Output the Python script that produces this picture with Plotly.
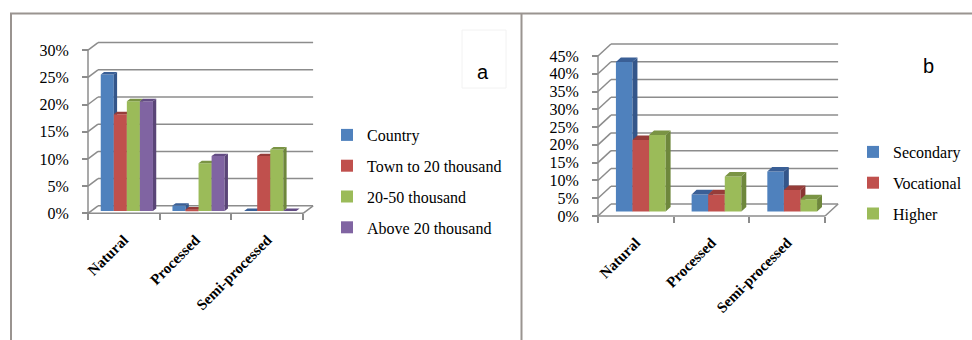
import plotly.graph_objects as go

# ---------------------------------------------------------------- data
categories = ["Natural", "Processed", "Semi-processed"]

# (a) by place of residence, % of respondents
series_a = ["Country", "Town to 20 thousand", "20-50 thousand", "Above 20 thousand"]
country = [25.1, 1.0, 0.0]
town_to_20k = [17.8, 0.3, 10.1]
from_20_to_50k = [20.2, 8.8, 11.3]
above_20k = [20.2, 10.1, 0.0]
ticks_a = [0, 5, 10, 15, 20, 25, 30]
tick_labels_a = ["0%", "5%", "10%", "15%", "20%", "25%", "30%"]

# (b) by education, % of respondents
series_b = ["Secondary", "Vocational", "Higher"]
secondary = [42.0, 4.8, 11.2]
vocational = [20.1, 4.8, 6.0]
higher = [21.5, 9.8, 3.4]
ticks_b = [0, 5, 10, 15, 20, 25, 30, 35, 40, 45]
tick_labels_b = ["0%", "5%", "10%", "15%", "20%", "25%", "30%", "35%", "40%", "45%"]

# ---------------------------------------------------------------- style
FRONT = ["#4F81BD", "#C0504D", "#9BBB59", "#8064A2"]
SIDE = ["#34568A", "#8A3532", "#6E873C", "#5A4577"]
TOP = ["#3A5F96", "#963C39", "#7A9444", "#634C83"]
GRID = "#8c8c8c"
FRAME = "#9a9490"
SERIF = "Liberation Serif"
SANS = "Liberation Sans"

W, H = 972, 340


def fx(p):
    return p / W


def fy(p):
    return 1 - p / H


panels = [
    dict(values=[country, town_to_20k, from_20_to_50k, above_20k], names=series_a,
         ticks=ticks_a, tick_labels=tick_labels_a, axis_px=88, right_px=315,
         cat_px=71.7, zero_px=213.3, unit_px=5.44, ymax=32, wall_dx_px=10,
         wall_dy_px=7.5, z0=0.3, z1=0.63, bar_w=0.182,
         xs=["x", "x3", "x4", "x5"], ys=["y", "y3", "y4", "y5"], legend="legend"),
    dict(values=[secondary, vocational, higher], names=series_b,
         ticks=ticks_b, tick_labels=tick_labels_b, axis_px=598, right_px=840,
         cat_px=75.7, zero_px=216, unit_px=3.556, ymax=49, wall_dx_px=13,
         wall_dy_px=12, z0=0.38, z1=0.76, bar_w=0.219,
         xs=["x2", "x6", "x7"], ys=["y2", "y6", "y7"], legend="legend2"),
]

fig = go.Figure()
shapes = []
layout_axes = {}


def axkey(ref):
    return ("xaxis" if ref[0] == "x" else "yaxis") + ref[1:]


for p in panels:
    n = len(p["values"])
    cat = [0, 1, 2]
    DX = p["wall_dx_px"] / p["cat_px"]
    DY = p["wall_dy_px"] / p["unit_px"]
    ddx = (p["z1"] - p["z0"]) * DX
    ddy = (p["z1"] - p["z0"]) * DY
    w = p["bar_w"]
    left0 = -n * w / 2
    base = p["z0"] * DY

    pad_l, pad_b = 9, 9
    x_lo = -0.5 - pad_l / p["cat_px"]
    x_hi = -0.5 + (p["right_px"] + 2 - p["axis_px"]) / p["cat_px"]
    y_lo = -pad_b / p["unit_px"]
    x_dom = [fx(p["axis_px"] - pad_l), fx(p["right_px"] + 2)]
    y_dom = [fy(p["zero_px"] + pad_b), fy(p["zero_px"] - p["ymax"] * p["unit_px"])]

    for k, vals in enumerate(p["values"]):
        xa, ya = p["xs"][k], p["ys"][k]
        off = left0 + k * w + p["z0"] * DX
        # front faces
        fig.add_trace(go.Bar(
            x=cat, y=vals, base=base, width=w, offset=off,
            marker=dict(color=FRONT[k], line=dict(width=0)),
            name=p["names"][k], legend=p["legend"], legendgroup=p["names"][k],
            xaxis=xa, yaxis=ya, hoverinfo="skip"))
        # right side and top faces
        sx, sy, tx, ty = [], [], [], []
        for c, v in zip(cat, vals):
            xl = c + off
            xr = xl + w
            yt = base + v
            sx += [xr, xr, xr + ddx, xr + ddx, xr, None]
            sy += [base, yt, yt + ddy, base + ddy, base, None]
            tx += [xl, xr, xr + ddx, xl + ddx, xl, None]
            ty += [yt, yt, yt + ddy, yt + ddy, yt, None]
        for fxs, fys, col in ((sx, sy, SIDE[k]), (tx, ty, TOP[k])):
            fig.add_trace(go.Scatter(
                x=fxs, y=fys, mode="none", fill="toself", fillcolor=col,
                showlegend=False, hoverinfo="skip", xaxis=xa, yaxis=ya))

        if k == 0:
            layout_axes[axkey(xa)] = dict(
                domain=x_dom, range=[x_lo, x_hi], anchor="free",
                position=fy(p["zero_px"]),
                tickmode="array", tickvals=cat, ticktext=categories,
                tickangle=-45, ticks="", showgrid=False, zeroline=False,
                showline=False, ticklabelstandoff=14,
                tickfont=dict(family=SERIF, size=15, color="black", weight="bold"),
                minor=dict(tickmode="array", tickvals=[-0.5, 0.5, 1.5, 2.5],
                           ticks="outside", ticklen=6, tickwidth=1.5,
                           tickcolor=GRID, showgrid=False))
            layout_axes[axkey(ya)] = dict(
                domain=y_dom, range=[y_lo, p["ymax"]], anchor="free",
                position=fx(p["axis_px"]),
                tickmode="array", tickvals=p["ticks"], ticktext=p["tick_labels"],
                ticks="outside", ticklen=6, tickwidth=1.5, tickcolor=GRID,
                showgrid=False, zeroline=False, showline=False,
                ticklabelstandoff=10,
                tickfont=dict(family=SERIF, size=16, color="black"))
        else:
            layout_axes[axkey(xa)] = dict(
                overlaying=p["xs"][0], range=[x_lo, x_hi], visible=False,
                anchor=ya)
            layout_axes[axkey(ya)] = dict(
                overlaying=p["ys"][0], range=[y_lo, p["ymax"]], visible=False,
                anchor=xa)

    # walls and floor of the 3-D frame
    xr0, yr0 = p["xs"][0], p["ys"][0]
    line = dict(color=GRID, width=1.5)

    def seg(x0, y0, x1, y1):
        shapes.append(dict(type="line", xref=xr0, yref=yr0, x0=x0, y0=y0,
                           x1=x1, y1=y1, line=line, layer="below"))

    for v in p["ticks"]:
        seg(-0.5, v, -0.5 + DX, v + DY)
        seg(-0.5 + DX, v + DY, 2.5 + DX, v + DY)
    seg(-0.5, 0, -0.5, p["ticks"][-1])
    seg(-0.5, 0, 2.5, 0)
    seg(2.5, 0, 2.5 + DX, DY)

# outer frame
for x0, y0, x1, y1 in ((10, 13.5, 972, 13.5), (11, 13, 11, 340), (521.5, 13, 521.5, 340)):
    shapes.append(dict(type="line", xref="paper", yref="paper",
                       x0=fx(x0), y0=fy(y0), x1=fx(x1), y1=fy(y1),
                       line=dict(color=FRAME, width=2)))
shapes.append(dict(type="rect", xref="paper", yref="paper",
                   x0=fx(462), y0=fy(88), x1=fx(506), y1=fy(30),
                   line=dict(color="#f2f2f2", width=1)))

legend_style = dict(font=dict(family=SERIF, size=16, color="black"),
                    bgcolor="rgba(0,0,0,0)", traceorder="grouped",
                    tracegroupgap=7, xanchor="left", yanchor="top",
                    itemclick=False)

fig.update_layout(
    width=W, height=H, margin=dict(l=0, r=0, t=0, b=0),
    paper_bgcolor="white", plot_bgcolor="rgba(0,0,0,0)",
    barmode="overlay", showlegend=True,
    legend=dict(x=fx(327), y=fy(118), **legend_style),
    legend2=dict(x=fx(853), y=fy(135), **legend_style),
    shapes=shapes,
    annotations=[
        dict(text="a", x=fx(483), y=fy(59), xref="paper", yref="paper",
             showarrow=False, font=dict(family=SANS, size=20, color="black")),
        dict(text="b", x=fx(936), y=fy(53), xref="paper", yref="paper",
             showarrow=False, font=dict(family=SANS, size=20, color="black")),
    ],
    **layout_axes,
)

fig.write_html("out.html")
